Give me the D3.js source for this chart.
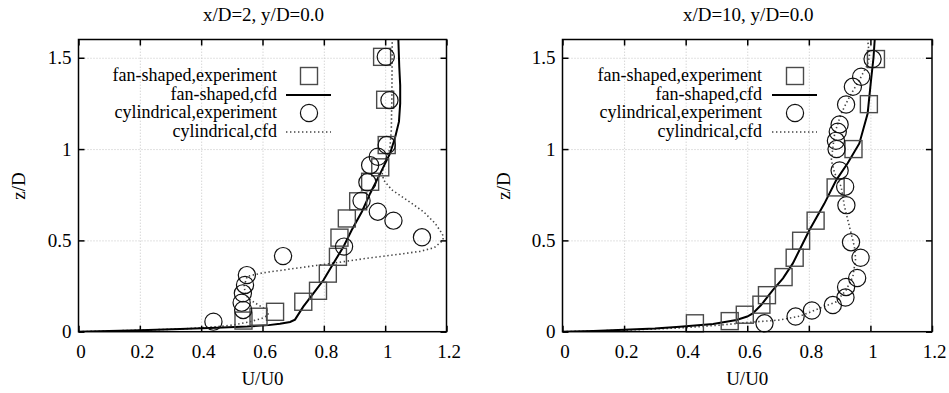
<!DOCTYPE html>
<html>
<head>
<meta charset="utf-8">
<script src="https://cdn.jsdelivr.net/npm/d3@7"></script>
<style>
  html, body { margin: 0; padding: 0; background: #fff; }
  svg text { font-family: "Liberation Serif", "Times New Roman", Tinos, "Nimbus Roman", "DejaVu Serif", "Noto Serif", serif !important; fill: #000; }
</style>
</head>
<body>
<svg id="chart" width="949" height="393"></svg>
<script>
// ---------- data ----------
const panelTitles = ["x/D=2, y/D=0.0", "x/D=10, y/D=0.0"];
const seriesNames = ["fan-shaped,experiment", "fan-shaped,cfd", "cylindrical,experiment", "cylindrical,cfd"];
const xTicks = [0, 0.2, 0.4, 0.6, 0.8, 1, 1.2];
const xTickLabels = ["0", "0.2", "0.4", "0.6", "0.8", "1", "1.2"];
const yTicks = [0, 0.5, 1, 1.5];
const yTickLabels = ["0", "0.5", "1", "1.5"];
const xLabel = "U/U0";
const yLabel = "z/D";

// x/D=2  : [U/U0, z/D]
const fanExp2 = [[0.99,1.505],[1.0,1.27],[1.005,1.022],[0.984,0.9],[0.951,0.821],[0.912,0.714],
  [0.875,0.62],[0.851,0.515],[0.846,0.41],[0.813,0.318],[0.781,0.224],[0.733,0.164],
  [0.641,0.109],[0.587,0.082],[0.538,0.061]];
const fanCfd2 = [[0.0,0.0],[0.1,0.004],[0.2,0.008],[0.331,0.015],[0.45,0.021],[0.55,0.028],
  [0.62,0.036],[0.657,0.044],[0.69,0.053],[0.706,0.066],[0.733,0.137],[0.766,0.21],
  [0.799,0.283],[0.831,0.374],[0.864,0.465],[0.891,0.557],[0.924,0.657],[0.951,0.757],
  [0.984,0.867],[1.016,0.976],[1.033,1.067],[1.045,1.15],[1.049,1.25],[1.049,1.35],
  [1.046,1.45],[1.043,1.6]];
const cylExp2 = [[1.002,1.505],[1.014,1.268],[1.005,1.022],[0.976,0.958],[0.951,0.912],
  [0.942,0.818],[0.923,0.717],[0.976,0.657],[1.027,0.608],[1.12,0.517],[0.866,0.466],
  [0.667,0.414],[0.549,0.31],[0.543,0.256],[0.536,0.21],[0.532,0.159],[0.537,0.119],
  [0.44,0.055]];
const cylCfd2 = [[0.0,0.0],[0.2,0.008],[0.35,0.016],[0.45,0.027],[0.505,0.037],[0.56,0.055],
  [0.598,0.073],[0.619,0.091],[0.614,0.119],[0.587,0.146],[0.56,0.174],[0.545,0.2],
  [0.54,0.25],[0.55,0.303],[0.6,0.322],[0.72,0.35],[0.85,0.38],[0.94,0.402],[1.05,0.425],
  [1.114,0.44],[1.16,0.46],[1.188,0.5],[1.19,0.52],[1.185,0.539],[1.163,0.593],
  [1.125,0.657],[1.071,0.721],[1.022,0.776],[0.995,0.83],[0.99,0.87],[1.0,0.93],
  [1.015,1.0],[1.02,1.1],[1.022,1.3],[1.023,1.6]];

// x/D=10 : [U/U0, z/D]
const fanExp10 = [[1.018,1.493],[0.995,1.246],[0.945,1.0],[0.887,0.79],[0.822,0.608],
  [0.775,0.498],[0.754,0.405],[0.718,0.299],[0.664,0.2],[0.646,0.148],[0.592,0.093],
  [0.543,0.058],[0.43,0.046]];
const fanCfd10 = [[0.0,0.0],[0.1,0.004],[0.2,0.01],[0.3,0.017],[0.381,0.027],[0.489,0.042],
  [0.565,0.064],[0.6,0.083],[0.618,0.1],[0.645,0.146],[0.683,0.228],[0.716,0.292],
  [0.748,0.374],[0.775,0.465],[0.802,0.557],[0.85,0.7],[0.889,0.83],[0.926,0.922],
  [0.964,1.031],[0.991,1.195],[1.002,1.378],[1.01,1.5],[1.014,1.6]];
const cylExp10 = [[1.007,1.493],[0.97,1.396],[0.943,1.341],[0.921,1.244],[0.9,1.135],
  [0.894,1.095],[0.888,1.045],[0.89,1.0],[0.9,0.883],[0.918,0.794],[0.922,0.693],
  [0.937,0.49],[0.968,0.405],[0.957,0.294],[0.921,0.245],[0.919,0.187],[0.878,0.146],
  [0.81,0.116],[0.757,0.083],[0.656,0.046]];
const cylCfd10 = [[0.0,0.0],[0.2,0.008],[0.4,0.022],[0.51,0.036],[0.613,0.052],[0.705,0.064],
  [0.77,0.085],[0.835,0.128],[0.889,0.164],[0.921,0.228],[0.943,0.301],[0.952,0.4],
  [0.948,0.465],[0.932,0.575],[0.916,0.684],[0.905,0.794],[0.884,0.867],[0.873,0.94],
  [0.884,1.086],[0.905,1.195],[0.932,1.286],[0.964,1.378],[0.99,1.46],[0.997,1.506],
  [0.991,1.6]];

const panelData = [
  { fanExp: fanExp2, fanCfd: fanCfd2, cylExp: cylExp2, cylCfd: cylCfd2 },
  { fanExp: fanExp10, fanCfd: fanCfd10, cylExp: cylExp10, cylCfd: cylCfd10 }
];

// ---------- layout ----------
const panels = [
  { x0: 78.5, x1: 446.5, legendRight: 277, sampleX: 286, yLabelX: 19 },
  { x0: 562.5, x1: 932, legendRight: 762, sampleX: 772, yLabelX: 504 }
];
const yTop = 39.5, yBot = 331.7;
const FS = 19, LFS = 18;
const FONT = '"Liberation Serif", "Times New Roman", Tinos, "Nimbus Roman", "DejaVu Serif", "Noto Serif", serif';

const svg = d3.select("#chart");

panels.forEach((p, i) => {
  const d = panelData[i];
  const x = d3.scaleLinear().domain([0, 1.2]).range([p.x0, p.x1]);
  const y = d3.scaleLinear().domain([0, 1.6]).range([yBot, yTop]);
  const W = p.x1 - p.x0, H = yBot - yTop;
  const g = svg.append("g").attr("font-family", FONT);

  const clipId = "clip" + i;
  svg.append("clipPath").attr("id", clipId)
    .append("rect").attr("x", p.x0).attr("y", yTop).attr("width", W).attr("height", H);

  // grid
  const gx = g.append("g").attr("transform", `translate(0,${yBot})`)
    .call(d3.axisBottom(x).tickValues(xTicks.slice(1, -1)).tickSize(-H).tickFormat(""));
  const gy = g.append("g").attr("transform", `translate(${p.x0},0)`)
    .call(d3.axisLeft(y).tickValues(yTicks.slice(1)).tickSize(-W).tickFormat(""));
  [gx, gy].forEach(a => {
    a.select(".domain").remove();
    a.selectAll("line").attr("stroke", "#c4c4c4").attr("stroke-width", 1).attr("stroke-dasharray", "1,2");
  });

  const line = d3.line().x(v => x(v[0])).y(v => y(v[1]));
  const plot = g.append("g").attr("clip-path", `url(#${clipId})`);

  plot.append("path").datum(d.cylCfd).attr("d", line)
    .attr("fill", "none").attr("stroke", "#444").attr("stroke-width", 1.6)
    .attr("stroke-dasharray", "1.4,2.6");
  plot.append("path").datum(d.fanCfd).attr("d", line)
    .attr("fill", "none").attr("stroke", "#000").attr("stroke-width", 2);

  const S = 17;
  g.append("g").selectAll("rect").data(d.fanExp).join("rect")
    .attr("x", v => x(v[0]) - S / 2).attr("y", v => y(v[1]) - S / 2)
    .attr("width", S).attr("height", S)
    .attr("fill", "none").attr("stroke", "#4a4a4a").attr("stroke-width", 1.4);
  g.append("g").selectAll("circle").data(d.cylExp).join("circle")
    .attr("cx", v => x(v[0])).attr("cy", v => y(v[1])).attr("r", 8.6)
    .attr("fill", "none").attr("stroke", "#111").attr("stroke-width", 1.2);

  // frame
  g.append("rect").attr("x", p.x0).attr("y", yTop).attr("width", W).attr("height", H)
    .attr("fill", "none").attr("stroke", "#000").attr("stroke-width", 1.5);

  // axes (ticks inward, mirrored)
  const ax = g.append("g").attr("transform", `translate(0,${yBot})`)
    .call(d3.axisBottom(x).tickValues(xTicks).tickSizeInner(-6).tickSizeOuter(0).tickPadding(13)
      .tickFormat((t, k) => xTickLabels[k]));
  ax.selectAll("text").attr("dx", 2);
  const ay = g.append("g").attr("transform", `translate(${p.x0},0)`)
    .call(d3.axisLeft(y).tickValues(yTicks).tickSizeInner(-6).tickSizeOuter(0).tickPadding(7)
      .tickFormat((t, k) => yTickLabels[k]));
  const at = g.append("g").attr("transform", `translate(0,${yTop})`)
    .call(d3.axisTop(x).tickValues(xTicks).tickSizeInner(-6).tickSizeOuter(0).tickFormat(""));
  const ar = g.append("g").attr("transform", `translate(${p.x1},0)`)
    .call(d3.axisRight(y).tickValues(yTicks).tickSizeInner(-6).tickSizeOuter(0).tickFormat(""));
  [ax, ay, at, ar].forEach(a => {
    a.select(".domain").remove();
    a.attr("font-family", FONT).attr("font-size", FS);
    a.selectAll("line").attr("stroke", "#000").attr("stroke-width", 1.5);
    a.selectAll("text").attr("fill", "#000");
  });

  // titles and axis labels
  const cx = (p.x0 + p.x1) / 2;
  g.append("text").attr("x", cx + 1).attr("y", 21).attr("text-anchor", "middle")
    .attr("font-size", FS).text(panelTitles[i]);
  g.append("text").attr("x", cx).attr("y", 385).attr("text-anchor", "middle")
    .attr("font-size", FS).text(xLabel);
  g.append("text").attr("transform", `translate(${p.yLabelX + 6},186) rotate(-90)`)
    .attr("text-anchor", "middle").attr("font-size", FS).text(yLabel);

  // legend
  const rows = [81, 99.5, 118, 136.5];
  const lg = g.append("g");
  seriesNames.forEach((name, k) => {
    lg.append("text").attr("x", p.legendRight).attr("y", rows[k]).attr("text-anchor", "end")
      .attr("font-size", LFS).text(name);
  });
  const sx0 = p.sampleX, sx1 = p.sampleX + 45, smid = (sx0 + sx1) / 2 + 0.5;
  lg.append("rect").attr("x", smid - S / 2).attr("y", rows[0] - 5 - S / 2).attr("width", S).attr("height", S)
    .attr("fill", "none").attr("stroke", "#4a4a4a").attr("stroke-width", 1.4);
  lg.append("line").attr("x1", sx0).attr("x2", sx1).attr("y1", rows[1] - 4.5).attr("y2", rows[1] - 4.5)
    .attr("stroke", "#000").attr("stroke-width", 2);
  lg.append("circle").attr("cx", smid).attr("cy", rows[2] - 5).attr("r", 8.6)
    .attr("fill", "none").attr("stroke", "#111").attr("stroke-width", 1.2);
  lg.append("line").attr("x1", sx0).attr("x2", sx1).attr("y1", rows[3] - 4.5).attr("y2", rows[3] - 4.5)
    .attr("stroke", "#444").attr("stroke-width", 1.6).attr("stroke-dasharray", "1.4,2.6");
});
</script>
</body>
</html>
